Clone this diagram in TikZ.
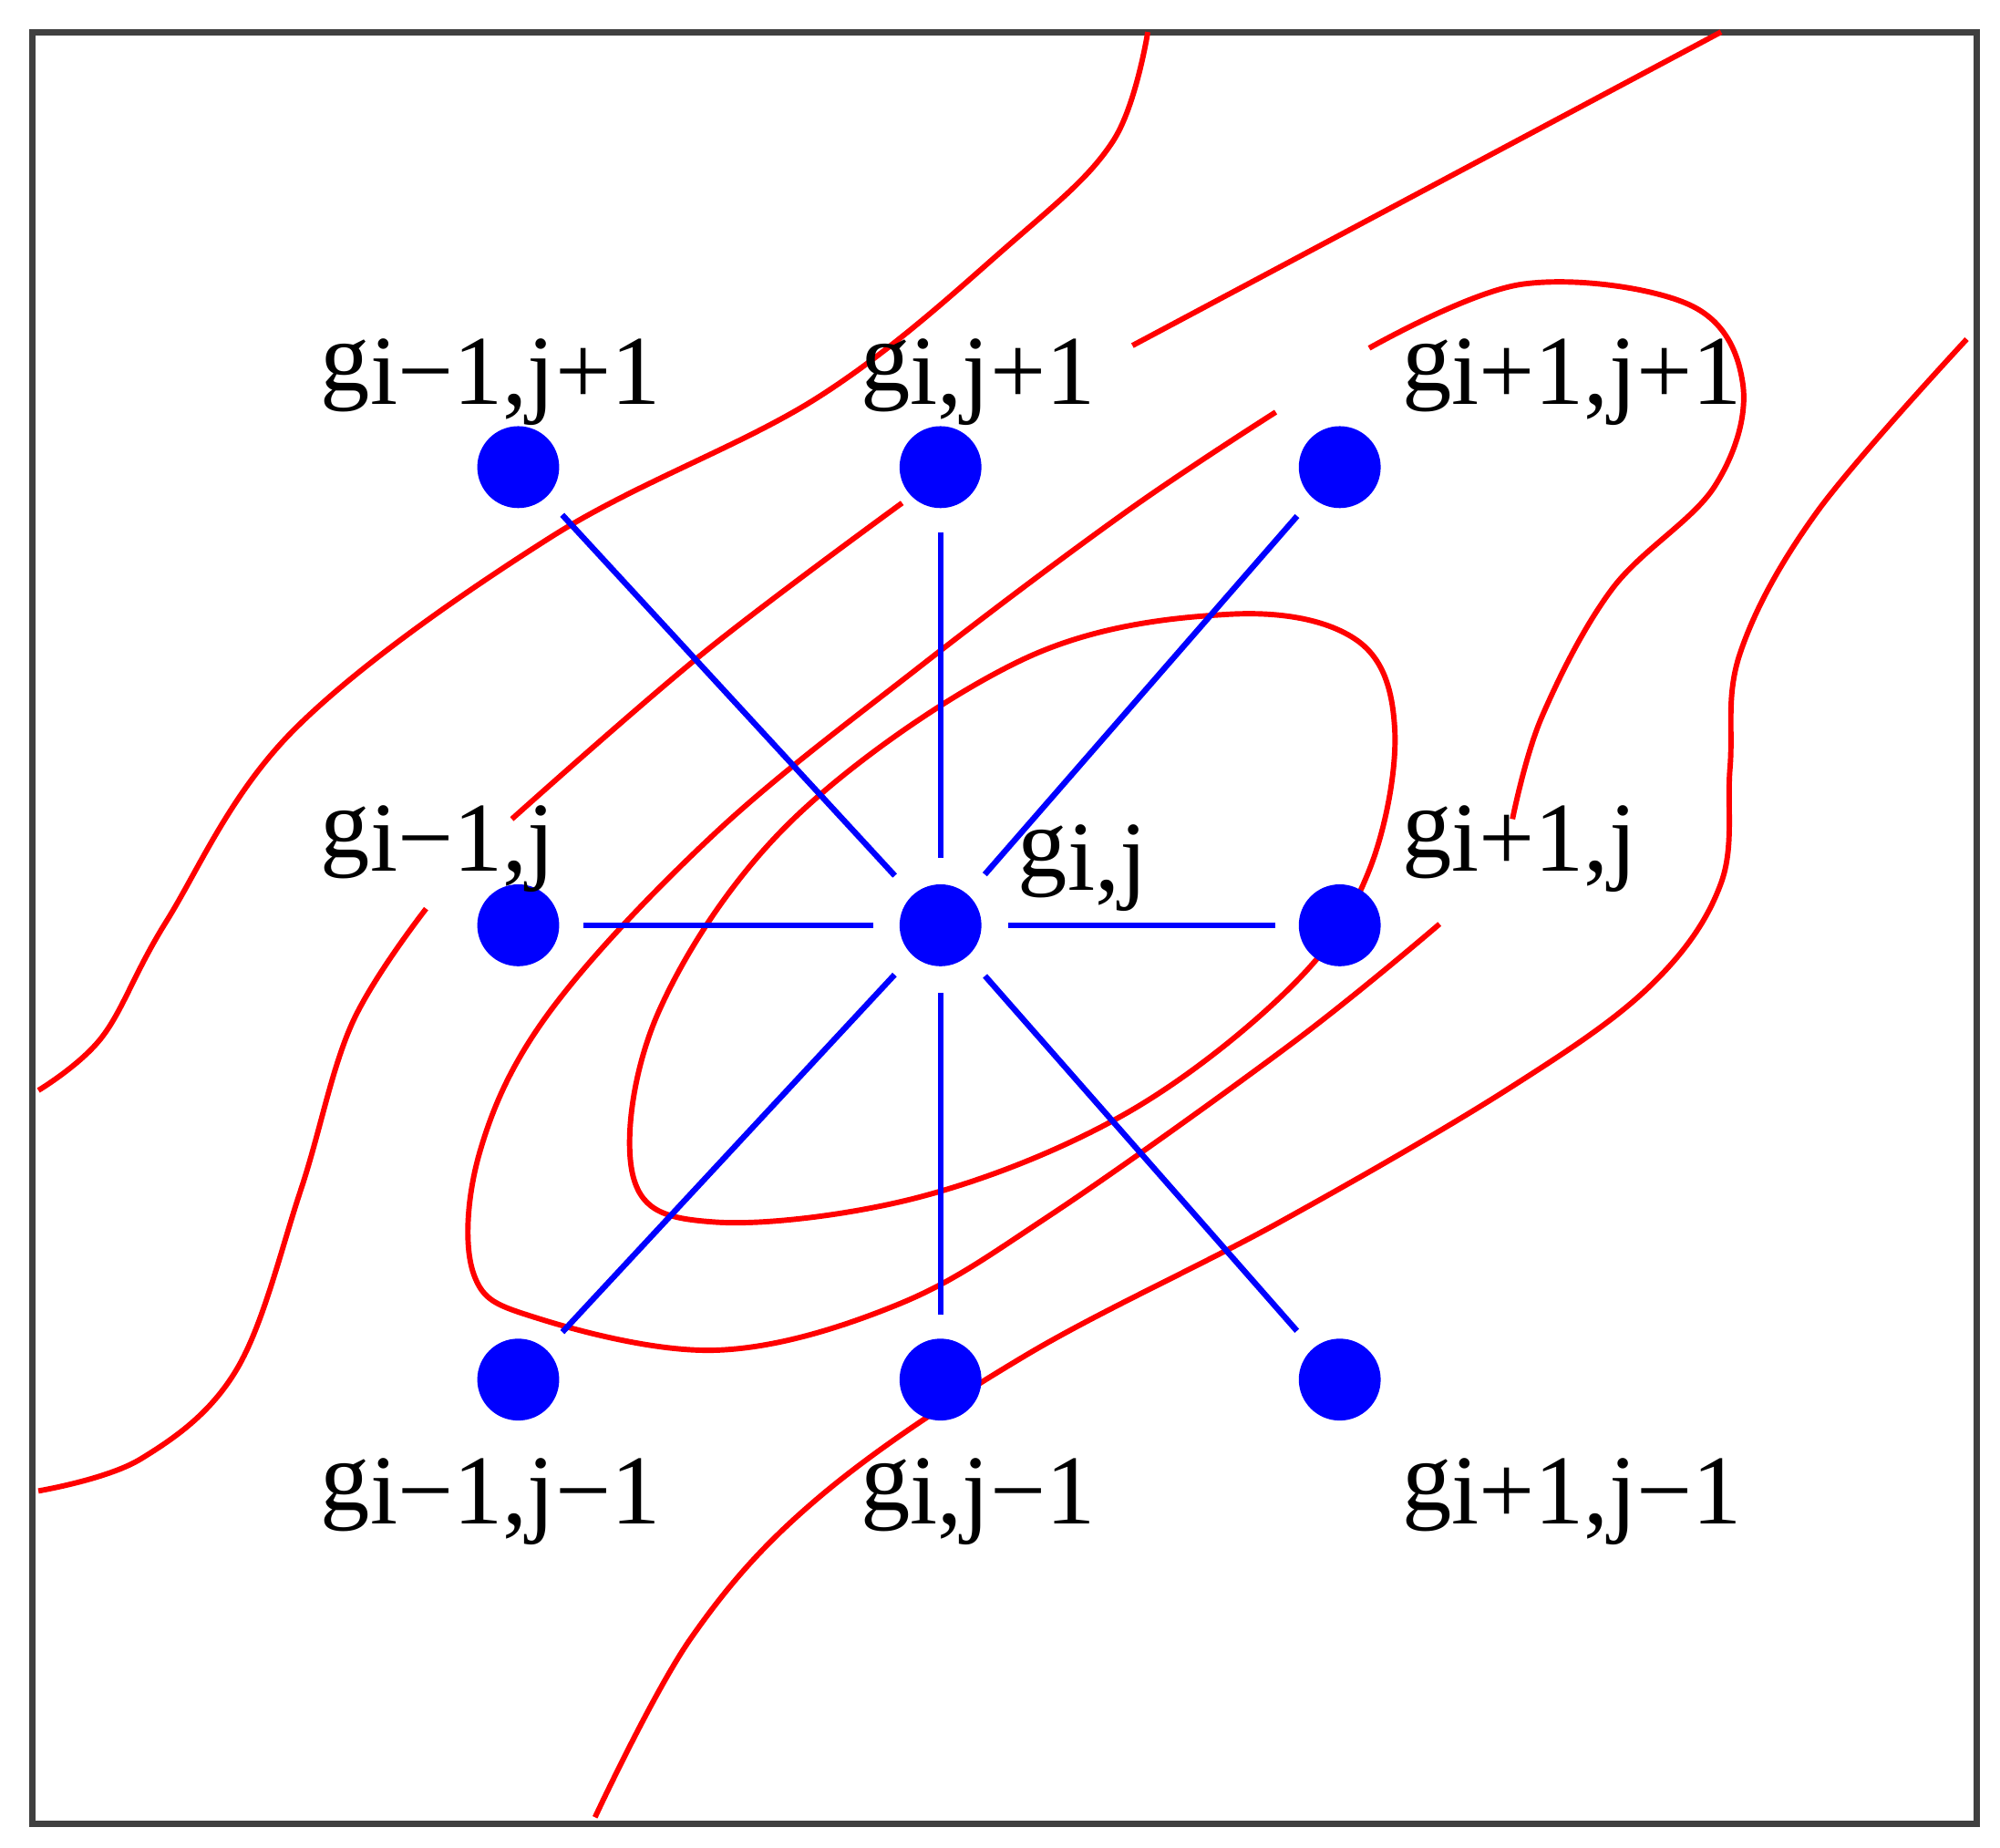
\documentclass[tikz,border=0pt]{standalone}
\usepackage{fontspec}
\setmainfont{Liberation Serif}
\begin{document}
\begin{tikzpicture}[x=0.1mm,y=-0.1mm,
  dot/.style={circle,fill=blue,inner sep=0pt,minimum size=6.4mm},
  lab/.style={anchor=base west,inner sep=0pt,font=\fontsize{22}{24}\selectfont},
  link/.style={blue,line width=1.3pt,shorten <=2mm,shorten >=1.8mm},
  cont/.style={red,line width=1.2pt}]
\useasboundingbox (0,0) rectangle (1563,1444);
\draw[black!75,line width=1.4pt] (25,25) rectangle (1545,1425);
\newcommand{\gl}[1]{g\raisebox{-0.3ex}{#1}}
% red contours
\draw[cont] plot[smooth,tension=0.6] coordinates{(897,25) (870,110) (790,190) (640,310) (430,420) (230,570) (130,720) (80,810) (30,852)};
\draw[cont] (885,270) -- (1345,25);
\draw[cont] plot[smooth,tension=0.6] coordinates{(1537,265) (1420,400) (1360,510) (1352,600) (1345,690) (1290,770) (1180,850) (1000,955) (800,1060) (640,1170) (540,1280) (465,1420)};
\draw[cont] plot[smooth,tension=0.6] coordinates{(1070,272) (1190,222) (1320,238) (1362,300) (1340,380) (1260,460) (1205,560) (1182,640)};
\draw[cont] plot[smooth,tension=0.6] coordinates{(705,393) (550,510) (400,640)};
\draw[cont] plot[smooth cycle,tension=0.6] coordinates{(1070,680) (1090,570) (1060,500) (960,480) (800,515) (620,640) (515,790) (495,920) (560,955) (720,935) (880,870) (1010,770)};
\draw[cont] plot[smooth,tension=0.6] coordinates{(1125,722) (1010,815) (820,950) (700,1020) (560,1055) (420,1030) (370,995) (375,900) (430,790) (560,650) (720,520) (880,400) (997,322)};
\draw[cont] plot[smooth,tension=0.6] coordinates{(333,710) (275,800) (235,930) (185,1070) (110,1140) (30,1165)};
% nodes
\node[dot] (a) at (405,365) {};
\node[dot] (b) at (735,365) {};
\node[dot] (c) at (1047,365) {};
\node[dot] (d) at (405,723) {};
\node[dot] (e) at (735,723) {};
\node[dot] (f) at (1047,723) {};
\node[dot] (g) at (405,1078) {};
\node[dot] (h) at (735,1078) {};
\node[dot] (k) at (1047,1078) {};
\foreach \n in {a,b,c,d,f,g,h,k} \draw[link] (e) -- (\n);
% labels
\node[lab] (la) at (250,305) {\gl{i−1,j+1}};
\node[lab] (lb) at (672,305) {\gl{i,j+1}};
\node[lab] (lc) at (1095,305) {\gl{i+1,j+1}};
\node[lab] (ld) at (250,670) {\gl{i−1,j}};
\node[lab] (le) at (795,685) {\gl{i,j}};
\node[lab] (lf) at (1095,670) {\gl{i+1,j}};
\node[lab] (lg) at (250,1180) {\gl{i−1,j−1}};
\node[lab] (lh) at (672,1180) {\gl{i,j−1}};
\node[lab] (lk) at (1095,1180) {\gl{i+1,j−1}};
\end{tikzpicture}
\end{document}
